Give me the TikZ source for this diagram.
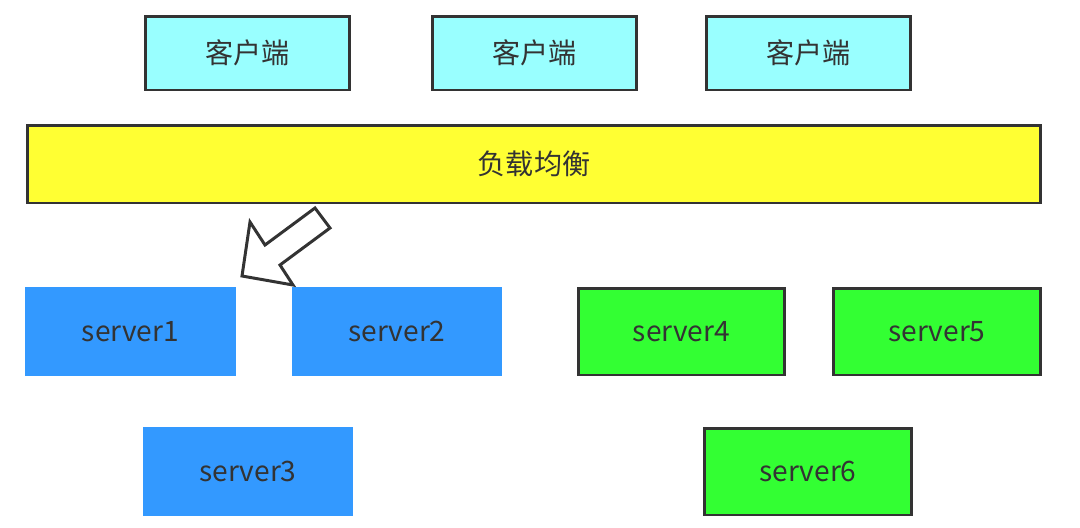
\documentclass[tikz,border=0pt]{standalone}
\usepackage{fontspec}
\setmainfont{Noto Sans CJK SC}
\usepackage{tikz}
\usetikzlibrary{positioning}
\definecolor{edgegray}{HTML}{333333}
\definecolor{clientcyan}{HTML}{99FFFF}
\definecolor{lbyellow}{HTML}{FFFF33}
\definecolor{srvblue}{HTML}{3399FF}
\definecolor{srvgreen}{HTML}{33FF33}
\tikzset{
  box/.style={inner sep=0pt, text=edgegray, font=\fontsize{16}{19}\selectfont},
  client/.style={box, draw=edgegray, line width=1.7pt, fill=clientcyan,
    minimum width=4.1cm, minimum height=1.48cm},
  balancer/.style={box, draw=edgegray, line width=1.7pt, fill=lbyellow,
    minimum width=20.28cm, minimum height=1.56cm},
  blueserver/.style={box, fill=srvblue, minimum width=4.22cm, minimum height=1.78cm},
  greenserver/.style={box, draw=edgegray, line width=1.7pt, fill=srvgreen,
    minimum width=4.14cm, minimum height=1.74cm}
}
\begin{document}
\begin{tikzpicture}[x=0.02cm, y=-0.02cm]
  \useasboundingbox (0,0) rectangle (1080,528);
  % clients
  \node[client] (c1) at (247.5,53) {客户端};
  \node[client] (c2) at (534.5,53) {客户端};
  \node[client] (c3) at (808.5,53) {客户端};
  % load balancer
  \node[balancer] (lb) at (534,164) {负载均衡};
  % servers
  \node[blueserver] (s1) at (130.5,331.5) {server1};
  \node[blueserver] (s2) at (397,331.5) {server2};
  \node[blueserver] (s3) at (248,471.5) {server3};
  \node[greenserver] (s4) at (681.5,331.5) {server4};
  \node[greenserver] (s5) at (937,331.5) {server5};
  \node[greenserver] (s6) at (808,471.5) {server6};
  % hollow arrow
  \draw[edgegray, fill=white, line width=1.7pt, line join=miter]
    (242,276) -- (250,222) -- (265,245) -- (315,208) -- (330,228)
    -- (280,265) -- (293,285) -- cycle;
\end{tikzpicture}
\end{document}
